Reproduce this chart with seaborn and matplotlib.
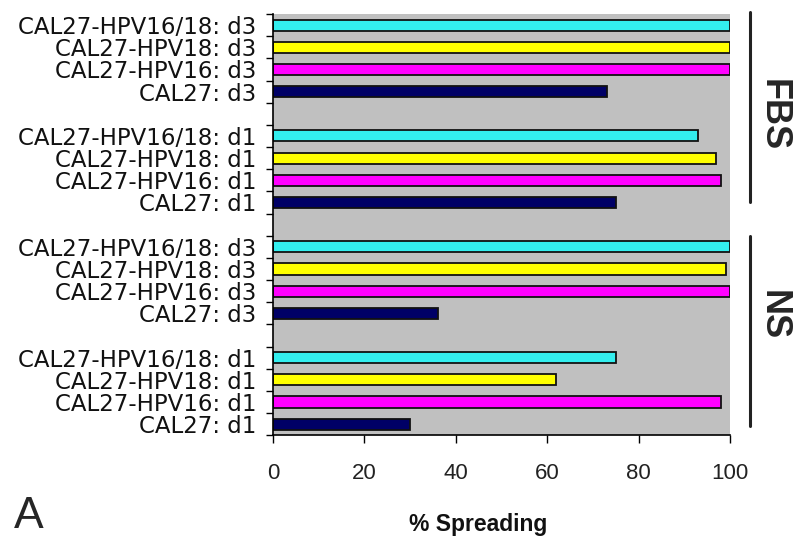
import matplotlib
matplotlib.use("Agg")
import matplotlib.pyplot as plt
import matplotlib.transforms as mtransforms
from matplotlib import font_manager
import seaborn as sns
import pandas as pd
import numpy as np

# Row labels, top to bottom; empty strings are spacer rows between groups
row_labels = [
    "CAL27-HPV16/18: d3", "CAL27-HPV18: d3", "CAL27-HPV16: d3", "CAL27: d3", "",
    "CAL27-HPV16/18: d1", "CAL27-HPV18: d1", "CAL27-HPV16: d1", "CAL27: d1", "",
    "CAL27-HPV16/18: d3", "CAL27-HPV18: d3", "CAL27-HPV16: d3", "CAL27: d3", "",
    "CAL27-HPV16/18: d1", "CAL27-HPV18: d1", "CAL27-HPV16: d1", "CAL27: d1",
]
cell_lines = ["CAL27-HPV16/18", "CAL27-HPV18", "CAL27-HPV16", "CAL27"]
conditions = ["FBS", "FBS", "NS", "NS"]
days = ["d3", "d1", "d3", "d1"]
x_ticks = [0, 20, 40, 60, 80, 100]

# % spreading per block (order of cell_lines within each block)
fbs_d3 = [100, 100, 100, 73]
fbs_d1 = [93, 97, 98, 75]
ns_d3 = [100, 99, 100, 36]
ns_d1 = [75, 62, 98, 30]
blocks = [fbs_d3, fbs_d1, ns_d3, ns_d1]

palette = {
    "CAL27-HPV16/18": "#33EEEE",
    "CAL27-HPV18": "#FFFF00",
    "CAL27-HPV16": "#FF00FF",
    "CAL27": "#000066",
}

records = []
for cond, day, vals in zip(conditions, days, blocks):
    for line, v in zip(cell_lines, vals):
        records.append({"row": f"{cond} | {line}: {day}", "line": line, "spreading": v})
df = pd.DataFrame(records)

# unique category keys in display order (spacers get their own keys)
order = []
k = 0
bi = 0
for i, lab in enumerate(row_labels):
    if lab == "":
        order.append(f"gap{i}")
    else:
        order.append(f"{conditions[bi]} | {lab}")
        k += 1
        if k % 4 == 0:
            bi += 1

available = {f.name for f in font_manager.fontManager.ttflist}
narrow = "Liberation Sans Narrow" if "Liberation Sans Narrow" in available else "Liberation Sans"

sns.set_theme(style="white")
plt.rcParams["font.family"] = ["DejaVu Sans"]

fig = plt.figure(figsize=(7.98, 5.38), dpi=100)
ax = fig.add_axes([0.342, 0.191, 0.573, 0.783])
ax.set_facecolor("#C0C0C0")

sns.barplot(data=df, y="row", x="spreading", hue="line", order=order,
            palette=palette, dodge=False, width=0.5, legend=False,
            saturation=1, edgecolor="#111111", linewidth=1.3, ax=ax, orient="h")

ax.set_xlim(0, 100)
ax.set_ylim(len(order) - 0.5, -0.5)
ax.set_xticks(x_ticks)
ax.set_xticklabels([str(t) for t in x_ticks], fontfamily=narrow, fontsize=16)
ax.set_yticks(np.arange(len(order)))
ax.set_yticklabels(row_labels, fontsize=16.5, color="#111111")
ax.set_yticks(np.arange(len(order) + 1) - 0.5, minor=True)
ax.tick_params(axis="y", which="major", left=False, length=0, pad=12)
ax.tick_params(axis="y", which="minor", left=True, length=5, width=1,
               direction="out", color="black")
ax.tick_params(axis="x", which="major", bottom=True, length=6, width=1,
               direction="out", color="black", pad=14, labelcolor="#222222")
ax.set_ylabel("")
ax.set_xlabel("% Spreading", fontsize=16.5, fontweight="bold",
              fontfamily="Liberation Sans", color="#111111")
ax.xaxis.set_label_coords(0.45, -0.185)

for side in ("top", "right"):
    ax.spines[side].set_visible(False)
for side in ("left", "bottom"):
    ax.spines[side].set_color("black")
    ax.spines[side].set_linewidth(1.2)

# group brackets and labels on the right
trans = mtransforms.blended_transform_factory(ax.transAxes, ax.transData)
for (y0, y1), name, yc in [((-0.6, 8.0), "FBS", 4.05), ((9.5, 18.1), "NS", 13.1)]:
    ax.plot([1.044, 1.044], [y0, y1], color="#222222", lw=2.2,
            transform=trans, clip_on=False)
    ax.text(1.093, yc, name, transform=trans, rotation=-90, ha="center",
            va="center", fontsize=26, fontweight="bold", family="Liberation Sans")

fig.text(0.018, 0.002, "A", fontsize=32, family="Liberation Sans",
         ha="left", va="bottom")

fig.savefig("out.png", dpi=100)
